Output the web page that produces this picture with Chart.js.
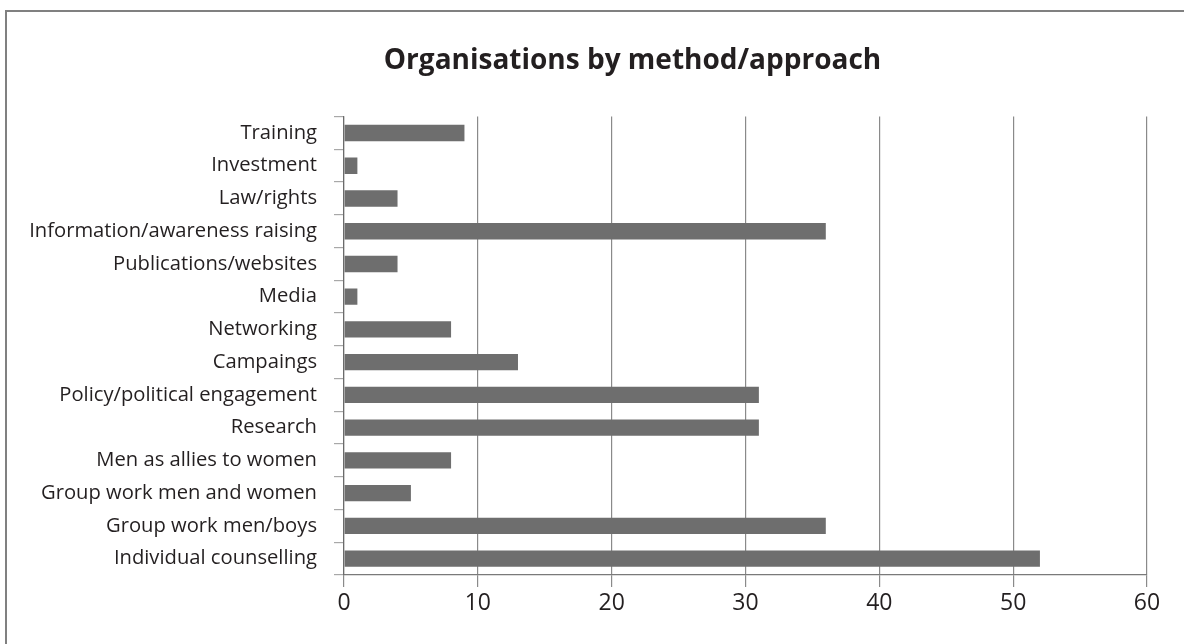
<!DOCTYPE html>
<html>
<head>
<meta charset="utf-8">
<script src="https://cdn.jsdelivr.net/npm/chart.js@4"></script>
<style>
  html, body { margin: 0; padding: 0; background: #fff; }
  #wrap { position: relative; width: 1184px; height: 644px; overflow: hidden; }
  #frame { position: absolute; left: 5px; top: 10px; right: -10px; bottom: -10px;
           border-left: 2px solid #808080; border-top: 2px solid #808080; }
  canvas { position: absolute; left: 0; top: 0; }
</style>
</head>
<body>
<div id="wrap">
  <div id="frame"></div>
  <canvas id="chart-area" width="1184" height="644"></canvas>
</div>
<script>
var labels = [
	'Training',
	'Investment',
	'Law/rights',
	'Information/awareness raising',
	'Publications/websites',
	'Media',
	'Networking',
	'Campaings',
	'Policy/political engagement',
	'Research',
	'Men as allies to women',
	'Group work men and women',
	'Group work men/boys',
	'Individual counselling'
];
var counts = [9, 1, 4, 36, 4, 1, 8, 13, 31, 31, 8, 5, 36, 52];
var xTicks = [0, 10, 20, 30, 40, 50, 60];

var fontFamily = "'Open Sans', sans-serif";

var config = {
	type: 'bar',
	data: {
		labels: labels,
		datasets: [{
			data: counts,
			backgroundColor: '#6e6e6e',
			barPercentage: 0.5,
			categoryPercentage: 1.0
		}]
	},
	options: {
		indexAxis: 'y',
		responsive: false,
		animation: false,
		// the title box runs past the right edge, so it sits where the original did
		layout: {
			padding: { left: 0, right: -81, top: 0, bottom: 0 }
		},
		plugins: {
			legend: { display: false },
			tooltip: { enabled: false },
			title: {
				display: true,
				text: 'Organisations by method/approach',
				color: '#231f20',
				font: { family: fontFamily, size: 28, weight: 'bold' },
				padding: { top: 44, bottom: 39 }
			}
		},
		scales: {
			x: {
				min: 0,
				max: 60,
				afterBuildTicks: function (scale) {
					scale.ticks = xTicks.map(function (v) { return { value: v }; });
				},
				afterFit: function (scale) { scale.height = 69; },
				grid: {
					color: '#8a8a8a',
					lineWidth: 1.2,
					tickLength: 12,
					tickColor: '#8a8a8a'
				},
				border: { color: '#7a7a7a', width: 1.2 },
				ticks: {
					color: '#231f20',
					padding: 3,
					font: { family: fontFamily, size: 23 }
				}
			},
			y: {
				afterFit: function (scale) { scale.width = 344; },
				grid: {
					drawOnChartArea: false,
					tickLength: 10,
					tickColor: '#a8a8a8',
					lineWidth: 1.2
				},
				border: { color: '#6b6b6b', width: 1.2 },
				ticks: {
					color: '#231f20',
					padding: 17,
					autoSkip: false,
					font: { family: fontFamily, size: 20.2 }
				}
			},
			// empty right-hand spacer: keeps the plot ending at 60 inside the frame
			spacer: {
				type: 'category',
				position: 'right',
				afterFit: function (scale) { scale.width = 118; },
				grid: { display: false },
				border: { display: false },
				ticks: { display: false }
			}
		}
	}
};

window.onload = function () {
	var ctx = document.getElementById('chart-area').getContext('2d');
	window.myBar = new Chart(ctx, config);
};
</script>
</body>
</html>
